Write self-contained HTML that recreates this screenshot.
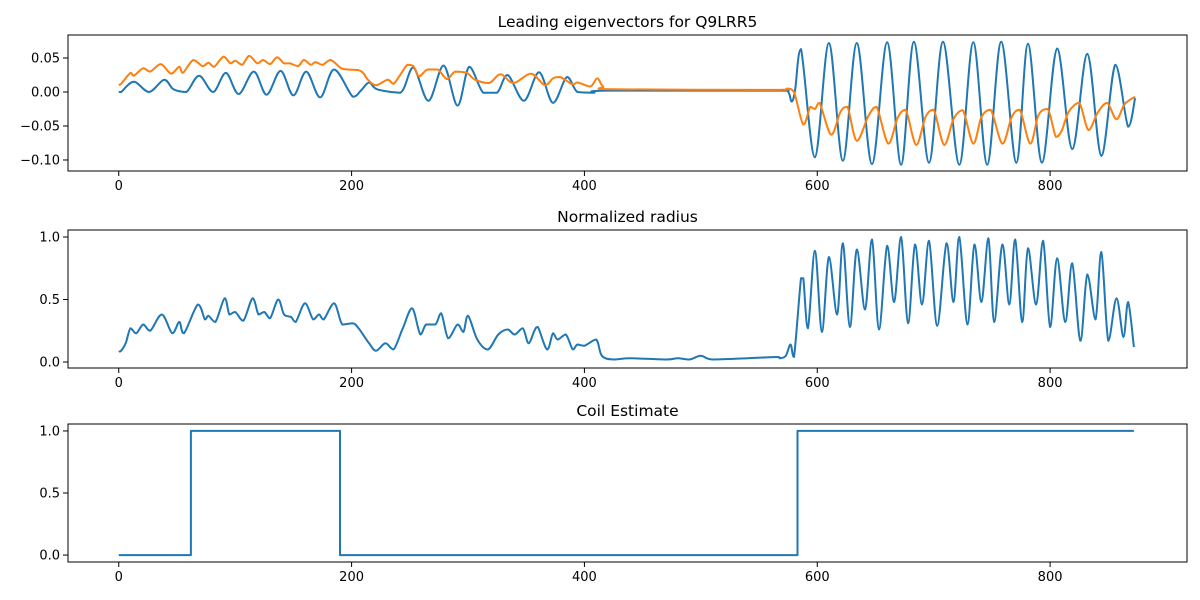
<!DOCTYPE html>
<html><head><meta charset="utf-8"><style>
body{margin:0;background:#fff;}
svg{display:block;font-family:"DejaVu Sans","Liberation Sans",sans-serif;}
</style></head><body>
<svg id="fig" width="1200" height="600" viewBox="0 0 1200 600" xmlns="http://www.w3.org/2000/svg"></svg>
<script>
const eigBlueX=[0,2,13,26,39,47,58,69,81,92,103,116,127,139,150,161,173,185,201,208,215,222,242,253,266,279,291,301,313,325,334,348,361,373,385,394,408,420,560,574,578,581,586,598,610,622,634,647,660,672,683,696,708,722,734,746,758,771,781,793,806,819,832,844,856,867,873];
const eigBlueY=[0,0,0.015,0,0.018,0.004,0,0.024,0,0.028,-0.003,0.03,-0.004,0.031,-0.005,0.03,-0.008,0.033,-0.007,0.002,0.014,0.004,-0.001,0.036,-0.013,0.039,-0.02,0.037,-0.001,-0.001,0.025,-0.013,0.029,-0.016,0.022,0,-0.001,0.002,0.002,0.002,-0.014,0.003,0.063,-0.096,0.072,-0.101,0.072,-0.106,0.073,-0.107,0.074,-0.104,0.074,-0.107,0.073,-0.107,0.074,-0.104,0.071,-0.104,0.064,-0.084,0.056,-0.094,0.04,-0.051,-0.009];
const eigOrangeX=[0,2,10,13,21,27,36,45,52,55,64,72,77,82,90,96,100,106,112,119,124,130,136,142,147,154,159,165,169,175,182,191,197,206,210,214,221,231,236,244,248,253,258,265,274,282,289,299,306,318,328,339,354,366,373,379,390,394,405,411,416,425,560,574,580,588,594,598,602,612,620,626,634,644,651,661,669,676,685,693,700,709,717,725,734,741,749,759,767,774,783,790,798,805,810,816,825,833,841,849,857,864,873];
const eigOrangeY=[0.01,0.012,0.028,0.024,0.035,0.03,0.041,0.027,0.037,0.028,0.047,0.038,0.043,0.037,0.052,0.042,0.046,0.04,0.053,0.042,0.047,0.041,0.051,0.042,0.042,0.038,0.047,0.04,0.044,0.04,0.047,0.035,0.033,0.032,0.028,0.018,0.01,0.018,0.012,0.031,0.04,0.038,0.023,0.033,0.033,0.019,0.03,0.028,0.018,0.013,0.026,0.013,0.027,0.01,0.02,0.022,0.011,0.014,0.008,0.02,0.008,0.004,0.003,0.005,0,-0.048,-0.022,-0.025,-0.016,-0.063,-0.029,-0.022,-0.072,-0.035,-0.022,-0.076,-0.038,-0.026,-0.078,-0.037,-0.026,-0.078,-0.04,-0.027,-0.076,-0.037,-0.026,-0.076,-0.037,-0.026,-0.076,-0.034,-0.025,-0.066,-0.057,-0.029,-0.016,-0.056,-0.03,-0.016,-0.04,-0.018,-0.007];
const radiusX=[0,2,6,10,15,21,27,37,46,52,56,68,74,77,83,91,95,100,107,115,120,125,130,137,142,148,152,160,167,172,176,185,192,201,206,215,221,229,236,244,252,259,264,272,277,283,291,296,300,308,317,326,334,340,347,352,357,360,368,373,377,384,390,394,400,410,415,425,440,470,480,490,500,510,540,565,568,573,577,580,586,588,592,598,604,610,617,622,628,634,641,647,653,660,666,672,678,684,690,696,703,711,717,722,729,735,741,747,752,759,765,770,776,781,788,794,800,806,813,819,826,832,839,844,850,857,863,867,872];
const radiusY=[0.082,0.09,0.15,0.27,0.23,0.3,0.25,0.38,0.23,0.32,0.23,0.46,0.34,0.37,0.32,0.51,0.38,0.4,0.33,0.51,0.38,0.4,0.35,0.5,0.38,0.36,0.32,0.47,0.34,0.38,0.34,0.47,0.3,0.31,0.27,0.15,0.09,0.15,0.1,0.27,0.43,0.22,0.3,0.3,0.39,0.19,0.3,0.24,0.37,0.18,0.1,0.22,0.26,0.22,0.27,0.15,0.25,0.28,0.1,0.23,0.18,0.22,0.1,0.14,0.13,0.18,0.05,0.02,0.03,0.02,0.03,0.02,0.05,0.02,0.03,0.04,0.03,0.05,0.14,0.04,0.67,0.67,0.27,0.89,0.24,0.84,0.38,0.95,0.28,0.9,0.42,0.98,0.26,0.93,0.48,1.0,0.31,0.94,0.46,0.97,0.29,0.95,0.48,1.0,0.3,0.94,0.48,0.99,0.32,0.94,0.46,0.98,0.32,0.91,0.46,0.97,0.28,0.83,0.32,0.79,0.17,0.7,0.34,0.88,0.17,0.51,0.2,0.48,0.12];
const coilX=[0,62,62,190,190,583,583,872];
const coilY=[0,0,1,1,0,0,1,1];
const xTicks=[0,200,400,600,800];
const yTicks1=[0.05,0.00,-0.05,-0.10];
const yTicks1Labels=["0.05","0.00","\u22120.05","\u22120.10"];
const yTicks2=[0,0.5,1.0];
const yTicks2Labels=["0.0","0.5","1.0"];

const NS="http://www.w3.org/2000/svg";
const svg=document.getElementById('fig');
function mk(tag,attrs,parent){const e=document.createElementNS(NS,tag);for(const k in attrs)e.setAttribute(k,attrs[k]);(parent||svg).appendChild(e);return e;}
const L=68,R=1187,XMIN=-43.6,XMAX=917.6;
const sx=v=>L+(v-XMIN)/(XMAX-XMIN)*(R-L);
function smoothPath(P){
  let d='M'+P[0][0].toFixed(1)+','+P[0][1].toFixed(1);
  for(let i=0;i<P.length-1;i++){
    const p0=P[Math.max(0,i-1)],p1=P[i],p2=P[i+1],p3=P[Math.min(P.length-1,i+2)];
    const t=1/6;
    let c1x=p1[0]+(p2[0]-p0[0])*t,c1y=p1[1]+(p2[1]-p0[1])*t;
    let c2x=p2[0]-(p3[0]-p1[0])*t,c2y=p2[1]-(p3[1]-p1[1])*t;
    const lo=Math.min(p1[1],p2[1]),hi=Math.max(p1[1],p2[1]);
    c1y=Math.min(hi,Math.max(lo,c1y));c2y=Math.min(hi,Math.max(lo,c2y));
    d+='C'+c1x.toFixed(1)+','+c1y.toFixed(1)+' '+c2x.toFixed(1)+','+c2y.toFixed(1)+' '+p2[0].toFixed(1)+','+p2[1].toFixed(1);
  }
  return d;
}
function panel(name,top,bot,ymin,ymax,title,yt,ytl,series){
  const g=mk('g',{});
  
  
  const sy=v=>bot-(v-ymin)/(ymax-ymin)*(bot-top);
  const t=mk('text',{x:(L+R)/2,y:top-8,'text-anchor':'middle','font-size':'15.5'},g);
  t.textContent=title;
  
  
  series.forEach(s=>{
    const P=s.x.map((xv,i)=>[sx(xv),sy(s.y[i])]);
    const d=s.smooth?smoothPath(P):P.map((p,i)=>(i?'L':'M')+p[0].toFixed(1)+','+p[1].toFixed(1)).join('');
    const p=mk('path',{d:d,fill:'none',stroke:s.c,'stroke-width':'2','stroke-linejoin':'round'},g);
    
    
  });
  const fr=mk('rect',{x:L,y:top,width:R-L,height:bot-top,fill:'none',stroke:'#000','stroke-width':'1'},g);
  
  
  xTicks.forEach(v=>{
    mk('line',{x1:sx(v),x2:sx(v),y1:bot,y2:bot+5,stroke:'#000'},g);
    const tl=mk('text',{x:sx(v),y:bot+19,'text-anchor':'middle','font-size':'13'},g);
    tl.textContent=v;
    
    
  });
  yt.forEach((v,i)=>{
    mk('line',{x1:L-5,x2:L,y1:sy(v),y2:sy(v),stroke:'#000'},g);
    const tl=mk('text',{x:L-8,y:sy(v)+4.5,'text-anchor':'end','font-size':'13'},g);
    tl.textContent=ytl[i];
    
    
  });
}
panel('eigenvector-panel',35,171,-0.1162,0.0838,'Leading eigenvectors for Q9LRR5',yTicks1,yTicks1Labels,
  [{x:eigBlueX,y:eigBlueY,c:'#1f77b4',n:'eigenvector-1-line',smooth:true},{x:eigOrangeX,y:eigOrangeY,c:'#ff7f0e',n:'eigenvector-2-line',smooth:true}]);
panel('radius-panel',230,368,-0.048,1.056,'Normalized radius',yTicks2,yTicks2Labels,
  [{x:radiusX,y:radiusY,c:'#1f77b4',n:'radius-line',smooth:true}]);
panel('coil-panel',424,562,-0.056,1.056,'Coil Estimate',yTicks2,yTicks2Labels,
  [{x:coilX,y:coilY,c:'#1f77b4',n:'coil-line',smooth:false}]);
</script>
</body></html>
